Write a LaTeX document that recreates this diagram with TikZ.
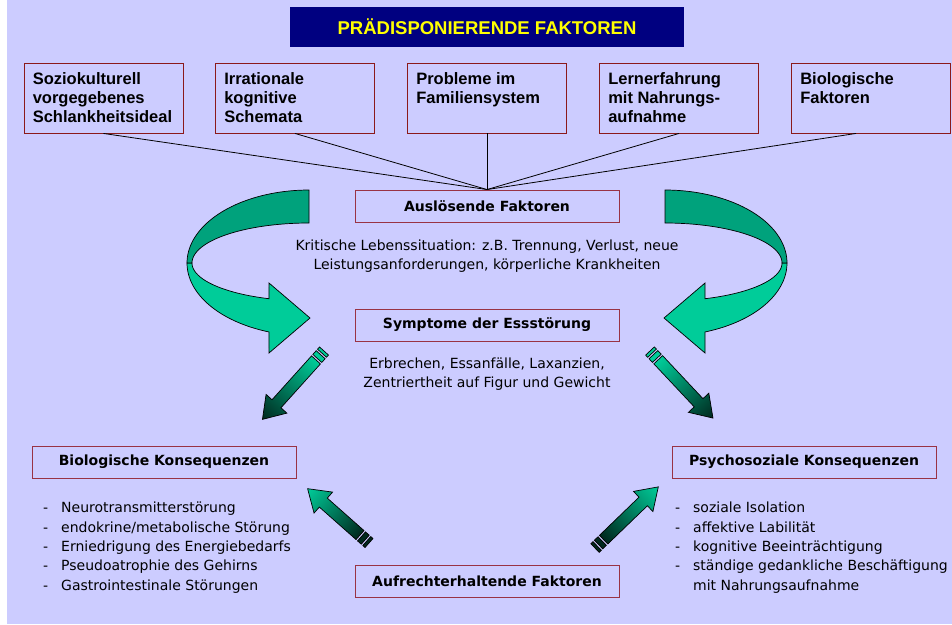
\documentclass[tikz,border=0pt]{standalone}
\usepackage{fontspec}
\setmainfont{DejaVu Sans}
\newfontfamily\arialfont{Liberation Sans}
\definecolor{bg}{HTML}{CCCCFF}
\definecolor{boxred}{HTML}{8B1A1A}
\definecolor{boxred2}{HTML}{993344}
\definecolor{navy}{HTML}{000080}
\definecolor{titleyellow}{HTML}{FFFF00}
\definecolor{gdark}{HTML}{00A27C}
\definecolor{glight}{HTML}{00CC99}
\definecolor{gdeep}{HTML}{00281E}
\newcommand\li[1]{\makebox[18pt][l]{-}#1}
\newcommand\gradarrow[5]{%
  \begin{scope}[transform canvas={shift={#1}, rotate=#2}]
    \filldraw[fill=#4, draw=black, line width=0.7pt] (0,-6) rectangle (3,6);
    \filldraw[fill=#4, draw=black, line width=0.7pt] (5,-6) rectangle (10,6);
    \shadedraw[left color=#4, right color=#5, draw=black, line width=0.7pt]
      (12,-6) -- ({#3-21},-6) -- ({#3-21},-14) -- (#3,0) -- ({#3-21},14) -- ({#3-21},6) -- (12,6) -- cycle;
  \end{scope}}
\newcommand\curvedarrow{%
  \filldraw[fill=glight, draw=black, line width=0.7pt]
    plot[domain=180:250.85, samples=40] ({309+122*cos(\x)},{263-73*sin(\x)})
    -- (269,353) -- (310,318) -- (269,283)
    -- plot[domain=250:180, samples=40] ({309+117*cos(\x)},{263-38*sin(\x)}) -- cycle;
  \filldraw[fill=gdark, draw=black, line width=0.7pt]
    plot[domain=90:180, samples=40] ({309+122*cos(\x)},{263-73*sin(\x)})
    -- plot[domain=180:90, samples=40] ({309+117*cos(\x)},{263-40*sin(\x)}) -- cycle;}
\begin{document}
\begin{tikzpicture}[x=1pt,y=-1pt,
  topbox/.style={draw=boxred, line width=0.9pt, minimum width=159pt, minimum height=70pt, inner sep=0pt},
  toptext/.style={font=\arialfont\bfseries\fontsize{16.5}{19}\selectfont, align=left, inner sep=0pt, anchor=north west},
  midbox/.style={draw=boxred2, line width=0.9pt, minimum width=264pt, minimum height=32pt, inner sep=0pt, font=\bfseries\fontsize{14}{16}\selectfont},
  bodytext/.style={font=\fontsize{14}{19}\selectfont, align=center, inner sep=0pt},
  listtext/.style={font=\fontsize{14}{19.3}\selectfont, align=left, inner sep=0pt, anchor=north west},
  conn/.style={draw=black, line width=0.8pt}]
\useasboundingbox (0,0) rectangle (952,624);
\fill[white] (0,0) rectangle (952,624);
\fill[bg] (7,0) rectangle (952,624);

% title
\node[fill=navy, minimum width=394pt, minimum height=40pt, inner sep=0pt,
  font=\arialfont\bfseries\fontsize{18.5}{20}\selectfont, text=titleyellow] (title) at (487,27) {PRÄDISPONIERENDE FAKTOREN};

% top boxes
\node[topbox] (b1) at (103.5,98) {};
\node[topbox] (b2) at (295,98) {};
\node[topbox] (b3) at (487,98) {};
\node[topbox] (b4) at (679,98) {};
\node[topbox] (b5) at (871,98) {};
\node[toptext] (t1) at ([xshift=9pt,yshift=-10pt]b1.north west) {Soziokulturell\\vorgegebenes\\Schlankheitsideal};
\node[toptext] (t2) at ([xshift=9pt,yshift=-10pt]b2.north west) {Irrationale\\kognitive\\Schemata};
\node[toptext] (t3) at ([xshift=9pt,yshift=-10pt]b3.north west) {Probleme im\\Familiensystem};
\node[toptext] (t4) at ([xshift=9pt,yshift=-10pt]b4.north west) {Lernerfahrung\\mit Nahrungs-\\aufnahme};
\node[toptext] (t5) at ([xshift=9pt,yshift=-10pt]b5.north west) {Biologische\\Faktoren};

% middle boxes
\node[midbox] (ausl) at (487,206) {Auslösende Faktoren};
\node[midbox] (sympt) at (487,325) {Symptome der Essstörung};
\node[midbox] (aufr) at (487,581) {Aufrechterhaltende Faktoren};
\node[midbox] (bio) at (164,462) {Biologische Konsequenzen};
\node[midbox] (psy) at (804,462) {Psychosoziale Konsequenzen};

% connectors
\draw[conn] (b1.south) -- (ausl.north);
\draw[conn] (b2.south) -- (ausl.north);
\draw[conn] (b3.south) -- (ausl.north);
\draw[conn] (b4.south) -- (ausl.north);
\draw[conn] ([xshift=-15pt]b5.south) -- (ausl.north);

% texts
\node[bodytext] (krit) at (487,256.5) {Kritische Lebenssituation: z.B. Trennung, Verlust, neue\\Leistungsanforderungen, körperliche Krankheiten};
\node[bodytext] (erb) at (487,374) {Erbrechen, Essanfälle, Laxanzien,\\Zentriertheit auf Figur und Gewicht};

\node[listtext] (biolist) at (43,502) {\li{Neurotransmitterstörung}\\\li{endokrine/metabolische Störung}\\\li{Erniedrigung des Energiebedarfs}\\\li{Pseudoatrophie des Gehirns}\\\li{Gastrointestinale Störungen}};
\node[listtext] (psylist) at (675,502) {\li{soziale Isolation}\\\li{affektive Labilität}\\\li{kognitive Beeinträchtigung}\\\li{ständige gedankliche Beschäftigung}\\\hspace*{18pt}mit Nahrungsaufnahme};

% curved arrows
\curvedarrow
\begin{scope}[shift={(974,0)}, xscale=-1]
\curvedarrow
\end{scope}

% straight arrows
\gradarrow{(324,351)}{228}{92}{glight}{gdeep}
\gradarrow{(650,351)}{313.2}{92}{glight}{gdeep}
\gradarrow{(369,543)}{138.5}{82}{gdeep}{glight}
\gradarrow{(595,548)}{44}{88}{gdeep}{glight}
\end{tikzpicture}
\end{document}
